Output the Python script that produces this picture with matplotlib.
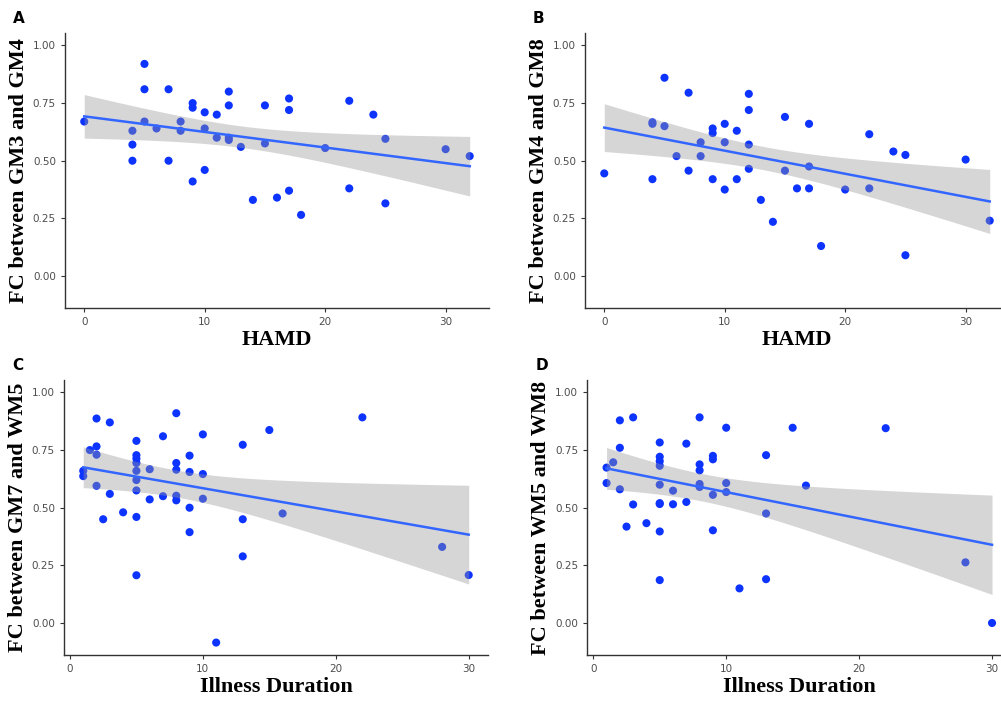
import numpy as np
import matplotlib
matplotlib.use("Agg")
import matplotlib.pyplot as plt
from matplotlib.ticker import FormatStrFormatter

# panel A: HAMD vs FC GM3-GM4
hamd_a = [0, 4, 4, 4, 5, 5, 5, 6, 7, 7, 8, 8, 9, 9, 9, 10, 10, 10, 11, 11, 12, 12, 12, 12,
          13, 14, 15, 15, 16, 17, 17, 17, 18, 20, 22, 22, 24, 25, 25, 30, 32]
fc_a = [0.67, 0.63, 0.57, 0.50, 0.92, 0.81, 0.67, 0.64, 0.81, 0.50, 0.67, 0.63, 0.75, 0.73,
        0.41, 0.71, 0.64, 0.46, 0.70, 0.60, 0.80, 0.74, 0.60, 0.59, 0.56, 0.33, 0.74, 0.575,
        0.34, 0.77, 0.72, 0.37, 0.265, 0.555, 0.76, 0.38, 0.70, 0.595, 0.315, 0.55, 0.52]

# panel B: HAMD vs FC GM4-GM8
hamd_b = [0, 4, 4, 4, 5, 5, 6, 7, 7, 8, 8, 9, 9, 9, 10, 10, 10, 11, 11, 12, 12, 12, 12, 13,
          14, 15, 15, 16, 17, 17, 17, 18, 20, 22, 22, 24, 25, 25, 30, 32]
fc_b = [0.445, 0.667, 0.66, 0.42, 0.86, 0.65, 0.52, 0.795, 0.457, 0.58, 0.52, 0.64, 0.62,
        0.42, 0.66, 0.58, 0.375, 0.63, 0.42, 0.79, 0.72, 0.57, 0.465, 0.33, 0.235, 0.69,
        0.457, 0.38, 0.66, 0.475, 0.38, 0.13, 0.375, 0.615, 0.38, 0.54, 0.525, 0.09, 0.505, 0.24]

# panel C: illness duration vs FC GM7-WM5
dur_c = [1, 1, 1.5, 2, 2, 2, 2, 2.5, 3, 3, 4, 5, 5, 5, 5, 5, 5, 5, 5, 5, 6, 6, 7, 7, 8, 8, 8,
         8, 8, 9, 9, 9, 9, 10, 10, 10, 11, 13, 13, 13, 15, 16, 22, 28, 30]
fc_c = [0.66, 0.637, 0.75, 0.887, 0.766, 0.73, 0.595, 0.45, 0.87, 0.56, 0.48, 0.79, 0.728,
        0.713, 0.694, 0.66, 0.62, 0.575, 0.46, 0.207, 0.667, 0.536, 0.81, 0.55, 0.91, 0.694,
        0.665, 0.552, 0.532, 0.726, 0.655, 0.50, 0.394, 0.818, 0.646, 0.539, -0.085, 0.773,
        0.45, 0.289, 0.837, 0.475, 0.892, 0.33, 0.208]

# panel D: illness duration vs FC WM5-WM8
dur_d = [1, 1, 1.5, 2, 2, 2, 2.5, 3, 3, 4, 5, 5, 5, 5, 5, 5, 5, 5, 5, 6, 6, 7, 7, 8, 8, 8, 8,
         8, 9, 9, 9, 9, 10, 10, 10, 11, 13, 13, 13, 15, 16, 22, 28, 30]
fc_d = [0.674, 0.607, 0.697, 0.879, 0.76, 0.58, 0.418, 0.892, 0.514, 0.433, 0.783, 0.721,
        0.702, 0.682, 0.60, 0.52, 0.516, 0.397, 0.186, 0.574, 0.515, 0.778, 0.525, 0.892,
        0.688, 0.662, 0.603, 0.59, 0.725, 0.71, 0.556, 0.402, 0.847, 0.607, 0.568, 0.15,
        0.728, 0.475, 0.19, 0.847, 0.596, 0.845, 0.263, 0.0]

panels = [
    ("A", hamd_a, fc_a, "HAMD", "FC between GM3 and GM4", [0.0649, 0.5606]),
    ("B", hamd_b, fc_b, "HAMD", "FC between GM4 and GM8", [0.5844, 0.5606]),
    ("C", dur_c, fc_c, "Illness Duration", "FC between GM7 and WM5", [0.0639, 0.0656]),
    ("D", dur_d, fc_d, "Illness Duration", "FC between WM5 and WM8", [0.5867, 0.0656]),
]

fig = plt.figure(figsize=(10.01, 7.01), dpi=100)

for letter, xs, ys, xlab, ylab, pos in panels:
    x = np.array(xs, dtype=float)
    y = np.array(ys, dtype=float)
    ax = fig.add_axes([pos[0], pos[1], 0.4236, 0.3923])

    ax.scatter(x, y, s=34, color="#0d33ff", edgecolors="none", zorder=2)

    # linear fit + 95% CI (lm style)
    slope, inter = np.polyfit(x, y, 1)
    n = len(x)
    resid = y - (slope * x + inter)
    se = np.sqrt(np.sum(resid ** 2) / (n - 2))
    xg = np.linspace(x.min(), x.max(), 100)
    yg = slope * xg + inter
    half = 2.02 * se * np.sqrt(1 / n + (xg - x.mean()) ** 2 / np.sum((x - x.mean()) ** 2))
    ax.fill_between(xg, yg - half, yg + half, color="#999999", alpha=0.4,
                    linewidth=0, zorder=3)
    ax.plot(xg, yg, color="#3366ff", linewidth=1.8, zorder=4)

    rng = x.max() - x.min()
    ax.set_xlim(x.min() - 0.05 * rng, x.max() + 0.05 * rng)
    ax.set_ylim(-0.139, 1.054)
    ax.set_xticks([0, 10, 20, 30])
    ax.set_yticks([0, 0.25, 0.5, 0.75, 1.0])
    ax.yaxis.set_major_formatter(FormatStrFormatter("%.2f"))
    ax.tick_params(labelsize=7.5, labelcolor="#4d4d4d", color="#333333", length=3, width=0.8)

    for s in ["top", "right"]:
        ax.spines[s].set_visible(False)
    for s in ["left", "bottom"]:
        ax.spines[s].set_color("#333333")
        ax.spines[s].set_linewidth(1.0)

    ax.set_xlabel(xlab, family="Liberation Serif", fontweight="bold", fontsize=16, labelpad=2)
    ax.set_ylabel(ylab, family="Liberation Serif", fontweight="bold", fontsize=16, labelpad=3)

    fig.text(pos[0] - 0.052, pos[1] + 0.413, letter, fontsize=11, fontweight="bold",
             family="DejaVu Sans", va="center", ha="left")

fig.savefig("out.png", dpi=100)
